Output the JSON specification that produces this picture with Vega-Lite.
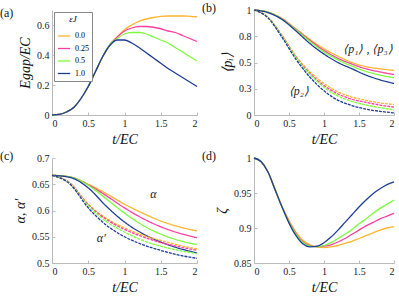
{
  "$schema": "https://vega.github.io/schema/vega-lite/v6.json",
  "background": "white",
  "padding": {"left": 0, "top": 2, "right": 0, "bottom": 2},
  "columns": 2,
  "bounds": "flush",
  "spacing": {"row": 43, "column": 57},
  "resolve": {"scale": {"color": "independent"}},
  "config": {
    "view": {"stroke": null},
    "axis": {"grid": false, "domainColor": "#bbbbbb", "tickColor": "#bbbbbb", "tickSize": -3, "labelPadding": 6, "labelOverlap": false,
      "labelFont": "Liberation Serif", "labelFontSize": 10, "labelColor": "#222222",
      "titleFont": "Liberation Serif", "titleFontSize": 14, "titleFontWeight": "normal", "titleFontStyle": "italic", "titleColor": "#111111"},
    "title": {"font": "Liberation Serif", "fontSize": 12, "fontWeight": "normal", "anchor": "start", "frame": "group", "offset": -10, "dx": -52, "color": "#111111"},
    "line": {"strokeWidth": 1.3, "interpolate": "monotone"},
    "text": {"font": "Liberation Serif", "fontSize": 12, "fontStyle": "italic", "color": "#222222"}
  },
  "datasets": {
    "a": [
      {"t": 0, "e0": 0, "e25": 0, "e50": 0, "e100": 0},
      {"t": 0.1, "e0": 0.004, "e25": 0.004, "e50": 0.004, "e100": 0.004},
      {"t": 0.2, "e0": 0.02, "e25": 0.02, "e50": 0.02, "e100": 0.02},
      {"t": 0.3, "e0": 0.05, "e25": 0.05, "e50": 0.05, "e100": 0.05},
      {"t": 0.4, "e0": 0.11, "e25": 0.11, "e50": 0.11, "e100": 0.11},
      {"t": 0.5, "e0": 0.19, "e25": 0.19, "e50": 0.19, "e100": 0.19},
      {"t": 0.6, "e0": 0.29, "e25": 0.29, "e50": 0.29, "e100": 0.29},
      {"t": 0.7, "e0": 0.39, "e25": 0.39, "e50": 0.39, "e100": 0.39},
      {"t": 0.8, "e0": 0.47, "e25": 0.47, "e50": 0.47, "e100": 0.465},
      {"t": 0.9, "e0": 0.52, "e25": 0.52, "e50": 0.51, "e100": 0.5},
      {"t": 1.0, "e0": 0.57, "e25": 0.56, "e50": 0.54, "e100": 0.5},
      {"t": 1.1, "e0": 0.6, "e25": 0.58, "e50": 0.55, "e100": 0.48},
      {"t": 1.2, "e0": 0.625, "e25": 0.59, "e50": 0.55, "e100": 0.45},
      {"t": 1.3, "e0": 0.64, "e25": 0.59, "e50": 0.54, "e100": 0.415},
      {"t": 1.4, "e0": 0.65, "e25": 0.585, "e50": 0.52, "e100": 0.38},
      {"t": 1.5, "e0": 0.657, "e25": 0.575, "e50": 0.5, "e100": 0.345},
      {"t": 1.6, "e0": 0.66, "e25": 0.56, "e50": 0.48, "e100": 0.31},
      {"t": 1.7, "e0": 0.66, "e25": 0.55, "e50": 0.45, "e100": 0.28},
      {"t": 1.8, "e0": 0.66, "e25": 0.53, "e50": 0.42, "e100": 0.25},
      {"t": 1.9, "e0": 0.658, "e25": 0.51, "e50": 0.39, "e100": 0.22},
      {"t": 2.0, "e0": 0.655, "e25": 0.49, "e50": 0.36, "e100": 0.19}
    ],
    "b": [
      {"fam": "p1", "t": 0, "e0": 1, "e25": 1, "e50": 1, "e100": 1},
      {"fam": "p1", "t": 0.2, "e0": 0.98, "e25": 0.98, "e50": 0.98, "e100": 0.975},
      {"fam": "p1", "t": 0.4, "e0": 0.92, "e25": 0.915, "e50": 0.912, "e100": 0.91},
      {"fam": "p1", "t": 0.6, "e0": 0.82, "e25": 0.815, "e50": 0.81, "e100": 0.8},
      {"fam": "p1", "t": 0.8, "e0": 0.72, "e25": 0.71, "e50": 0.7, "e100": 0.68},
      {"fam": "p1", "t": 1.0, "e0": 0.63, "e25": 0.615, "e50": 0.6, "e100": 0.58},
      {"fam": "p1", "t": 1.2, "e0": 0.56, "e25": 0.54, "e50": 0.525, "e100": 0.5},
      {"fam": "p1", "t": 1.4, "e0": 0.5, "e25": 0.485, "e50": 0.465, "e100": 0.44},
      {"fam": "p1", "t": 1.6, "e0": 0.46, "e25": 0.44, "e50": 0.415, "e100": 0.38},
      {"fam": "p1", "t": 1.8, "e0": 0.44, "e25": 0.41, "e50": 0.38, "e100": 0.335},
      {"fam": "p1", "t": 2.0, "e0": 0.425, "e25": 0.385, "e50": 0.355, "e100": 0.3},
      {"fam": "p2", "t": 0, "e0": 1, "e25": 1, "e50": 1, "e100": 1},
      {"fam": "p2", "t": 0.2, "e0": 0.93, "e25": 0.93, "e50": 0.93, "e100": 0.925},
      {"fam": "p2", "t": 0.4, "e0": 0.76, "e25": 0.755, "e50": 0.75, "e100": 0.74},
      {"fam": "p2", "t": 0.6, "e0": 0.56, "e25": 0.55, "e50": 0.545, "e100": 0.53},
      {"fam": "p2", "t": 0.8, "e0": 0.41, "e25": 0.395, "e50": 0.385, "e100": 0.36},
      {"fam": "p2", "t": 1.0, "e0": 0.3, "e25": 0.28, "e50": 0.265, "e100": 0.23},
      {"fam": "p2", "t": 1.2, "e0": 0.22, "e25": 0.2, "e50": 0.18, "e100": 0.14},
      {"fam": "p2", "t": 1.4, "e0": 0.17, "e25": 0.15, "e50": 0.13, "e100": 0.09},
      {"fam": "p2", "t": 1.6, "e0": 0.14, "e25": 0.12, "e50": 0.095, "e100": 0.055},
      {"fam": "p2", "t": 1.8, "e0": 0.115, "e25": 0.095, "e50": 0.07, "e100": 0.035},
      {"fam": "p2", "t": 2.0, "e0": 0.1, "e25": 0.075, "e50": 0.05, "e100": 0.02}
    ],
    "c": [
      {"fam": "a", "t": 0, "e0": 0.667, "e25": 0.667, "e50": 0.667, "e100": 0.667},
      {"fam": "a", "t": 0.25, "e0": 0.664, "e25": 0.664, "e50": 0.664, "e100": 0.663},
      {"fam": "a", "t": 0.5, "e0": 0.65, "e25": 0.649, "e50": 0.648, "e100": 0.643},
      {"fam": "a", "t": 0.75, "e0": 0.632, "e25": 0.628, "e50": 0.622, "e100": 0.608},
      {"fam": "a", "t": 1.0, "e0": 0.612, "e25": 0.605, "e50": 0.595, "e100": 0.578},
      {"fam": "a", "t": 1.25, "e0": 0.595, "e25": 0.585, "e50": 0.572, "e100": 0.556},
      {"fam": "a", "t": 1.5, "e0": 0.58, "e25": 0.569, "e50": 0.555, "e100": 0.54},
      {"fam": "a", "t": 1.75, "e0": 0.569, "e25": 0.557, "e50": 0.543, "e100": 0.528},
      {"fam": "a", "t": 2.0, "e0": 0.561, "e25": 0.548, "e50": 0.535, "e100": 0.519},
      {"fam": "ap", "t": 0, "e0": 0.667, "e25": 0.667, "e50": 0.667, "e100": 0.667},
      {"fam": "ap", "t": 0.25, "e0": 0.652, "e25": 0.652, "e50": 0.651, "e100": 0.65},
      {"fam": "ap", "t": 0.5, "e0": 0.612, "e25": 0.611, "e50": 0.609, "e100": 0.605},
      {"fam": "ap", "t": 0.75, "e0": 0.585, "e25": 0.583, "e50": 0.579, "e100": 0.572},
      {"fam": "ap", "t": 1.0, "e0": 0.567, "e25": 0.564, "e50": 0.559, "e100": 0.55},
      {"fam": "ap", "t": 1.25, "e0": 0.553, "e25": 0.55, "e50": 0.543, "e100": 0.535},
      {"fam": "ap", "t": 1.5, "e0": 0.543, "e25": 0.539, "e50": 0.532, "e100": 0.524},
      {"fam": "ap", "t": 1.75, "e0": 0.534, "e25": 0.531, "e50": 0.524, "e100": 0.515},
      {"fam": "ap", "t": 2.0, "e0": 0.527, "e25": 0.524, "e50": 0.518, "e100": 0.509}
    ],
    "d": [
      {"t": 0, "e0": 1, "e25": 1, "e50": 1, "e100": 1},
      {"t": 0.1, "e0": 0.995, "e25": 0.995, "e50": 0.995, "e100": 0.995},
      {"t": 0.2, "e0": 0.98, "e25": 0.98, "e50": 0.98, "e100": 0.98},
      {"t": 0.3, "e0": 0.956, "e25": 0.955, "e50": 0.955, "e100": 0.955},
      {"t": 0.4, "e0": 0.931, "e25": 0.93, "e50": 0.93, "e100": 0.93},
      {"t": 0.5, "e0": 0.911, "e25": 0.909, "e50": 0.908, "e100": 0.907},
      {"t": 0.6, "e0": 0.894, "e25": 0.892, "e50": 0.891, "e100": 0.889},
      {"t": 0.7, "e0": 0.882, "e25": 0.88, "e50": 0.879, "e100": 0.877},
      {"t": 0.8, "e0": 0.876, "e25": 0.875, "e50": 0.874, "e100": 0.873},
      {"t": 0.9, "e0": 0.873, "e25": 0.873, "e50": 0.873, "e100": 0.874},
      {"t": 1.0, "e0": 0.872, "e25": 0.874, "e50": 0.875, "e100": 0.879},
      {"t": 1.1, "e0": 0.873, "e25": 0.876, "e50": 0.879, "e100": 0.887},
      {"t": 1.2, "e0": 0.875, "e25": 0.88, "e50": 0.885, "e100": 0.897},
      {"t": 1.3, "e0": 0.878, "e25": 0.885, "e50": 0.891, "e100": 0.908},
      {"t": 1.4, "e0": 0.881, "e25": 0.891, "e50": 0.898, "e100": 0.919},
      {"t": 1.5, "e0": 0.885, "e25": 0.897, "e50": 0.906, "e100": 0.93},
      {"t": 1.6, "e0": 0.889, "e25": 0.903, "e50": 0.913, "e100": 0.94},
      {"t": 1.7, "e0": 0.893, "e25": 0.908, "e50": 0.921, "e100": 0.949},
      {"t": 1.8, "e0": 0.897, "e25": 0.913, "e50": 0.928, "e100": 0.956},
      {"t": 1.9, "e0": 0.9, "e25": 0.917, "e50": 0.934, "e100": 0.962},
      {"t": 2.0, "e0": 0.902, "e25": 0.921, "e50": 0.94, "e100": 0.966}
    ],
    "labb": [
      {"t": 1.98, "v": 0.63, "txt": "⟨p₁⟩ , ⟨p₃⟩"},
      {"t": 0.64, "v": 0.23, "txt": "⟨p₂⟩"}
    ],
    "labc": [
      {"t": 1.4, "v": 0.632, "txt": "α"},
      {"t": 0.68, "v": 0.547, "txt": "α′"}
    ]
  },
  "concat": [
    {
      "width": 145, "height": 105,
      "title": {"text": "(a)"},
      "data": {"name": "a"},
      "transform": [{"fold": ["e0", "e25", "e50", "e100"], "as": ["eps", "v"]}],
      "mark": {"type": "line"},
      "encoding": {
        "x": {"field": "t", "type": "quantitative", "scale": {"domain": [0, 2]}, "axis": {"values": [0, 0.5, 1, 1.5, 2], "format": "~g", "title": "t/EC"}},
        "y": {"field": "v", "type": "quantitative", "scale": {"domain": [0, 0.7]}, "axis": {"values": [0, 0.2, 0.4, 0.6], "format": "~g", "title": "Egap/EC"}},
        "color": {"field": "eps", "type": "nominal",
          "scale": {"domain": ["e0", "e25", "e50", "e100"], "range": ["#FFB52E", "#FF3EA0", "#7BFF3A", "#1F3C96"]},
          "legend": {"orient": "top-left", "offset": 2, "title": "εJ", "titleFont": "Liberation Serif", "titleFontStyle": "italic", "titleFontWeight": "normal", "titleFontSize": 9, "titleAnchor": "middle",
            "labelFont": "Liberation Serif", "labelFontSize": 8, "symbolType": "stroke", "symbolStrokeWidth": 2, "symbolSize": 150,
            "strokeColor": "#888888", "fillColor": "white", "padding": 3, "rowPadding": 1.5,
            "labelExpr": "{'e0':'0.0','e25':'0.25','e50':'0.5','e100':'1.0'}[datum.label]"}}
      }
    },
    {
      "width": 140, "height": 105,
      "title": {"text": "(b)"},
      "encoding": {
        "x": {"field": "t", "type": "quantitative", "scale": {"domain": [0, 2]}, "axis": {"values": [0, 0.5, 1, 1.5, 2], "format": "~g", "title": "t/EC"}},
        "y": {"field": "v", "type": "quantitative", "scale": {"domain": [0, 1]}, "axis": {"values": [0, 0.25, 0.5, 0.75, 1], "format": "~g", "title": "⟨pᵢ⟩"}}
      },
      "layer": [
        {
          "data": {"name": "b"},
          "transform": [{"fold": ["e0", "e25", "e50", "e100"], "as": ["eps", "v"]}],
          "mark": {"type": "line"},
          "encoding": {
            "color": {"field": "eps", "type": "nominal", "scale": {"domain": ["e0", "e25", "e50", "e100"], "range": ["#FFB52E", "#FF3EA0", "#7BFF3A", "#1F3C96"]}, "legend": null},
            "strokeDash": {"field": "fam", "type": "nominal", "scale": {"domain": ["p1", "p2"], "range": [[1, 0], [3, 1]]}, "legend": null}
          }
        },
        {
          "data": {"name": "labb"},
          "mark": {"type": "text", "color": "#222222", "align": {"expr": "datum.t > 1 ? 'right' : 'center'"}},
          "encoding": {"text": {"field": "txt"}}
        }
      ]
    },
    {
      "width": 145, "height": 105,
      "title": {"text": "(c)"},
      "encoding": {
        "x": {"field": "t", "type": "quantitative", "scale": {"domain": [0, 2]}, "axis": {"values": [0, 0.5, 1, 1.5, 2], "format": "~g", "title": "t/EC"}},
        "y": {"field": "v", "type": "quantitative", "scale": {"domain": [0.5, 0.7]}, "axis": {"values": [0.5, 0.55, 0.6, 0.65, 0.7], "format": "~g", "title": "α, α′"}}
      },
      "layer": [
        {
          "data": {"name": "c"},
          "transform": [{"fold": ["e0", "e25", "e50", "e100"], "as": ["eps", "v"]}],
          "mark": {"type": "line"},
          "encoding": {
            "color": {"field": "eps", "type": "nominal", "scale": {"domain": ["e0", "e25", "e50", "e100"], "range": ["#FFB52E", "#FF3EA0", "#7BFF3A", "#1F3C96"]}, "legend": null},
            "strokeDash": {"field": "fam", "type": "nominal", "scale": {"domain": ["a", "ap"], "range": [[1, 0], [3, 1]]}, "legend": null}
          }
        },
        {
          "data": {"name": "labc"},
          "mark": {"type": "text", "color": "#222222"},
          "encoding": {"text": {"field": "txt"}}
        }
      ]
    },
    {
      "width": 140, "height": 105,
      "title": {"text": "(d)"},
      "data": {"name": "d"},
      "transform": [{"fold": ["e0", "e25", "e50", "e100"], "as": ["eps", "v"]}],
      "mark": {"type": "line"},
      "encoding": {
        "x": {"field": "t", "type": "quantitative", "scale": {"domain": [0, 2]}, "axis": {"values": [0, 0.5, 1, 1.5, 2], "format": "~g", "title": "t/EC"}},
        "y": {"field": "v", "type": "quantitative", "scale": {"domain": [0.85, 1]}, "axis": {"values": [0.85, 0.9, 0.95, 1], "format": "~g", "title": "ζ"}},
        "color": {"field": "eps", "type": "nominal", "scale": {"domain": ["e0", "e25", "e50", "e100"], "range": ["#FFB52E", "#FF3EA0", "#7BFF3A", "#1F3C96"]}, "legend": null}
      }
    }
  ]
}
